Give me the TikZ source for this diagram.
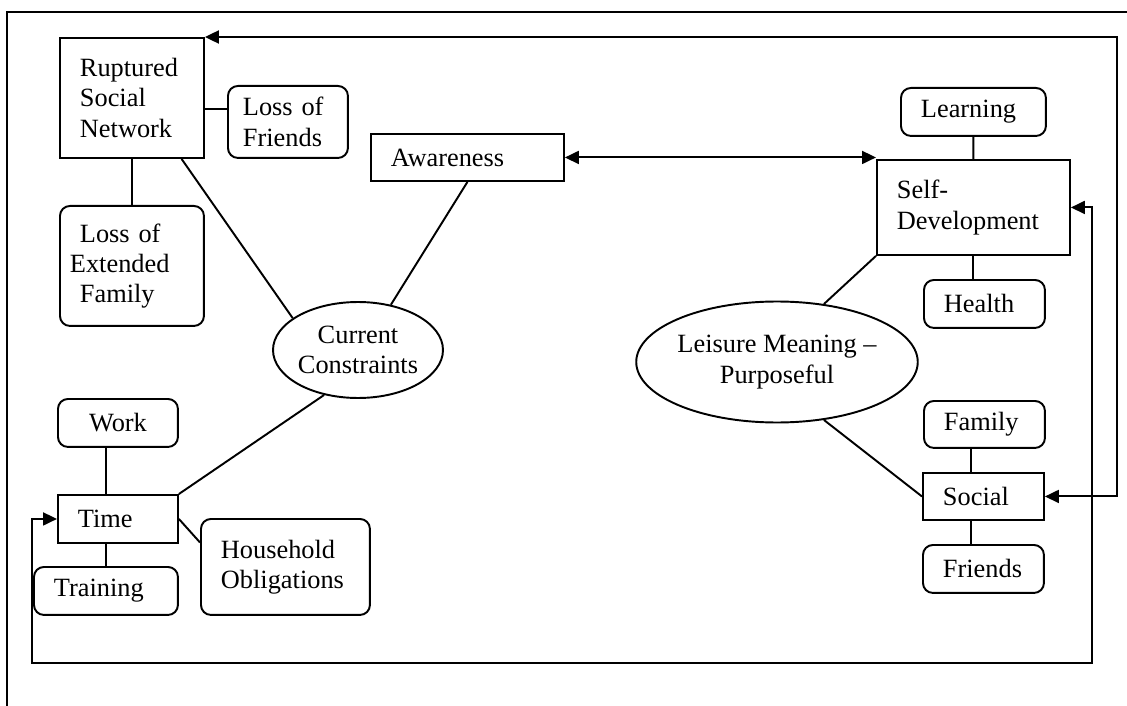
\documentclass[tikz,border=0pt]{standalone}
\usepackage{fontspec}
\setmainfont{Liberation Serif}
\usetikzlibrary{arrows.meta,shapes.geometric,calc}

\tikzset{
  box/.style={draw, rectangle, anchor=north west, inner xsep=0.4cm, inner ysep=0pt, align=left},
  rbox/.style={box, rounded corners=0.2cm},
  oval/.style={draw, ellipse, inner sep=0pt, align=center}
}

\begin{document}
\begin{tikzpicture}[x=0.02cm, y=-0.02cm, >={Triangle[length=0.28cm,width=0.26cm]}, line width=1.1pt,
  font=\fontsize{15}{17.2}\selectfont]
\useasboundingbox (0,0) rectangle (1127,706);
\draw (7,706)--(7,12)--(1127,12);

% left group
\node[box, text width=2.08cm, minimum height=2.4cm] (rsn) at (59,37) {Ruptured\\Social\\Network};
\node[rbox, inner xsep=0.3cm, text width=1.8cm, minimum height=1.44cm] (lof) at (227,85) {Loss of\\Friends};
\node[rbox, inner xsep=0.2cm, text width=2.48cm, minimum height=2.4cm, align=left] (loef) at (59,205) {\hspace*{0.2cm}Loss of\\Extended\\\hspace*{0.2cm}Family};
\node[box, text width=3.06cm, minimum height=0.94cm] (aware) at (370,133) {Awareness};
\node[oval, minimum width=3.4cm, minimum height=1.92cm] (cc) at (358,350) {Current\\Constraints};

\node[rbox, text width=1.6cm, minimum height=0.96cm, align=center] (work) at (57,398) {Work};
\node[box, text width=1.6cm, minimum height=0.96cm] (time) at (57,494) {Time};
\node[rbox, text width=2.08cm, minimum height=0.96cm] (train) at (33,566) {Training};
\node[rbox, text width=2.58cm, minimum height=1.92cm] (house) at (200,518) {Household\\Obligations};

% right group
\node[rbox, text width=2.1cm, minimum height=0.96cm] (learn) at (900,87) {Learning};
\node[box, text width=3.06cm, minimum height=1.9cm] (self) at (876,159) {Self-\\Development};
\node[rbox, text width=1.62cm, minimum height=0.96cm] (health) at (923,279) {Health};
\node[oval, minimum width=4.88cm, minimum height=2.42cm] (lm) at (777,362) {Leisure Meaning --\\Purposeful};
\node[rbox, text width=1.62cm, minimum height=0.94cm] (fam) at (923,400) {Family};
\node[box, text width=1.62cm, minimum height=0.94cm] (soc) at (922,472) {Social};
\node[rbox, text width=1.62cm, minimum height=0.96cm] (frnd) at (922,544) {Friends};

\coordinate (loopA) at (1117,37);
\coordinate (loopR) at (1092,663);
\coordinate (loopL) at (32,663);

% connectors
\draw ([yshift=-0.22cm]rsn.east)--([yshift=-0.22cm]rsn.east -| lof.west);
\draw (rsn.south)--(loef.north);
\draw ($(rsn.south west)!0.84!(rsn.south east)$)--(cc.154);
\draw (aware.south)--(cc.54);
\draw (cc.233)--(time.north east);
\draw (train.north |- work.south)--(train.north |- time.north);
\draw (train.north |- time.south)--(train.north);
\draw (time.east)--($(house.north west)!0.25!(house.south west)$);

\draw (learn.south)--(self.north);
\draw (self.south)--(self.south |- health.north);
\draw (self.south west)--(lm.51);
\draw (lm.-51)--(soc.west);
\draw ([xshift=-0.24cm]soc.north)--([xshift=-0.24cm]soc.north |- fam.south);
\draw ([xshift=-0.24cm]soc.south)--([xshift=-0.24cm]soc.south |- frnd.north);

% arrows
\draw [<->] (aware.east)--(aware.east -| self.west);
\draw [<->] (rsn.north east)--(loopA) |- (soc.east);
\draw [<->] (self.east) -| (loopR)--(loopL) |- (time.west);

\end{tikzpicture}
\end{document}
